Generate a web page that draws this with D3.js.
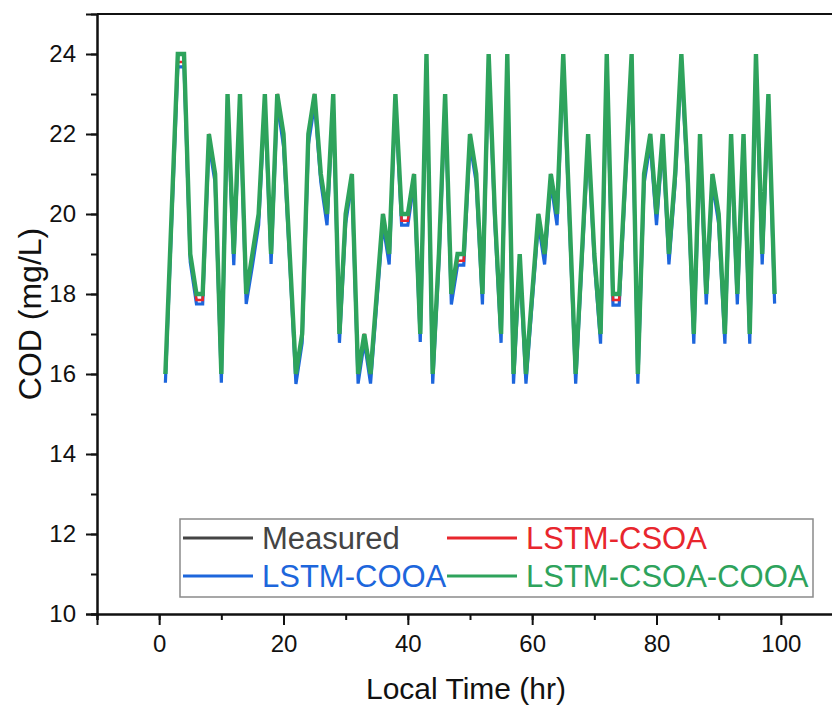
<!DOCTYPE html>
<html>
<head>
<meta charset="utf-8">
<script src="https://cdn.jsdelivr.net/npm/d3@7"></script>
<style>
  html, body { margin: 0; padding: 0; background: #fff; }
  svg { display: block; }
  text { font-family: "Liberation Sans", Arial, Helvetica, sans-serif; }
</style>
</head>
<body>
<svg id="chart" width="832" height="706"></svg>
<script>
// ---- data ----
const hours = d3.range(1, 100); // 1..99
const measured = [
  16, 20, 24, 24, 19, 18, 18, 22, 21, 16,
  23, 19, 23, 18, 19, 20, 23, 19, 23, 22,
  19, 16, 17, 22, 23, 21, 20, 23, 17, 20,
  21, 16, 17, 16, 18, 20, 19, 23, 20, 20,
  21, 17, 24, 16, 19, 23, 18, 19, 19, 22,
  21, 18, 24, 20, 17, 24, 16, 19, 16, 18,
  20, 19, 21, 20, 24, 20, 16, 19, 22, 19,
  17, 24, 18, 18, 21, 24, 16, 21, 22, 20,
  22, 19, 21, 24, 21, 17, 22, 18, 21, 20,
  17, 22, 18, 22, 17, 24, 19, 23, 18
];
const lstmCSOA = [
  16, 20, 23.8, 23.8, 19, 17.85, 17.85, 22, 21, 16,
  23, 19, 23, 18, 19, 20, 23, 19, 23, 22,
  19, 16, 17, 22, 23, 21, 20, 23, 17, 20,
  21, 16, 17, 16, 18, 20, 19, 23, 19.83, 19.83,
  21, 17, 24, 16, 19, 23, 18, 18.83, 18.83, 22,
  21, 18, 24, 20, 17, 24, 16, 19, 16, 18,
  20, 19, 21, 20, 24, 20, 16, 19, 22, 19,
  17, 24, 17.85, 17.85, 21, 24, 16, 21, 22, 20,
  22, 19, 21, 24, 21, 17, 22, 18, 21, 20,
  17, 22, 18, 22, 17, 24, 19, 23, 18
];
const lstmCOOA = [
  15.78, 19.75, 23.68, 23.68, 18.8, 17.75, 17.75, 21.75, 20.78, 15.78,
  22.75, 18.72, 22.76, 17.75, 18.7, 19.72, 22.78, 18.75, 22.76, 21.7,
  18.8, 15.75, 16.78, 21.74, 22.75, 20.8, 19.72, 22.78, 16.78, 19.76,
  20.8, 15.76, 16.8, 15.76, 17.76, 19.74, 18.74, 22.8, 19.72, 19.72,
  20.78, 16.8, 23.76, 15.76, 18.78, 22.76, 17.74, 18.72, 18.72, 21.76,
  20.78, 17.74, 23.74, 19.76, 16.78, 23.76, 15.76, 18.76, 15.76, 17.78,
  19.76, 18.74, 20.78, 19.72, 23.76, 19.76, 15.76, 18.78, 21.76, 18.8,
  16.76, 23.78, 17.72, 17.72, 20.78, 23.76, 15.76, 20.76, 21.76, 19.72,
  21.76, 18.74, 20.78, 23.72, 20.78, 16.76, 21.76, 17.74, 20.76, 19.76,
  16.76, 21.78, 17.74, 21.78, 16.76, 23.76, 18.74, 22.78, 17.76
];
const lstmCSOACOOA = [
  16, 20, 24, 24, 19, 18, 18, 22, 21, 16,
  23, 19, 23, 18, 19, 20, 23, 19, 23, 22,
  19, 16, 17, 22, 23, 21, 20, 23, 17, 20,
  21, 16, 17, 16, 18, 20, 19, 23, 20, 20,
  21, 17, 24, 16, 19, 23, 18, 19, 19, 22,
  21, 18, 24, 20, 17, 24, 16, 19, 16, 18,
  20, 19, 21, 20, 24, 20, 16, 19, 22, 19,
  17, 24, 18, 18, 21, 24, 16, 21, 22, 20,
  22, 19, 21, 24, 21, 17, 22, 18, 21, 20,
  17, 22, 18, 22, 17, 24, 19, 23, 18
];
const seriesNames = ["Measured", "LSTM-CSOA", "LSTM-COOA", "LSTM-CSOA-COOA"];
const seriesColors = ["#444444", "#e8262d", "#1d66dc", "#2ea35c"];
const xTicks = [0, 20, 40, 60, 80, 100];
const yTicks = [10, 12, 14, 16, 18, 20, 22, 24];
const xLabel = "Local Time (hr)";
const yLabel = "COD (mg/L)";

// ---- layout ----
const svg = d3.select("#chart");
const pLeft = 97, pRight = 843, pTop = 14, pBottom = 614;
const x = d3.scaleLinear().domain([-10, 110]).range([pLeft, pRight]);
const y = d3.scaleLinear().domain([10, 25]).range([pBottom, pTop]);

// ---- lines ----
const line = d3.line().x((d, i) => x(hours[i])).y(d => y(d));
const order = [
  { data: measured, color: seriesColors[0], w: 2.5 },
  { data: lstmCOOA, color: seriesColors[2], w: 3.2 },
  { data: lstmCSOA, color: seriesColors[1], w: 2.6 },
  { data: lstmCSOACOOA, color: seriesColors[3], w: 4.4 }
];
const g = svg.append("g");
order.forEach(s => {
  g.append("path")
    .attr("d", line(s.data))
    .attr("fill", "none")
    .attr("stroke", s.color)
    .attr("stroke-width", s.w)
    .attr("stroke-linejoin", "miter")
    .attr("stroke-miterlimit", 4);
});

// ---- axes ----
const axisColor = "#111";
svg.append("line").attr("x1", pLeft).attr("x2", pRight).attr("y1", pTop).attr("y2", pTop)
  .attr("stroke", axisColor).attr("stroke-width", 2);
svg.append("line").attr("x1", pRight).attr("x2", pRight).attr("y1", pTop).attr("y2", pBottom)
  .attr("stroke", axisColor).attr("stroke-width", 2);

const xAxisMinor = d3.axisBottom(x).tickValues(d3.range(-10, 111, 10)).tickSize(6).tickFormat("");
const xAxis = d3.axisBottom(x).tickValues(xTicks).tickSize(11).tickPadding(10);
const yAxisMinor = d3.axisLeft(y).tickValues(d3.range(10, 25, 1)).tickSize(6).tickFormat("");
const yAxis = d3.axisLeft(y).tickValues(yTicks).tickSize(11).tickPadding(10);

function styleAxis(sel) {
  sel.select(".domain").attr("stroke", axisColor).attr("stroke-width", 2);
  sel.selectAll(".tick line").attr("stroke", axisColor).attr("stroke-width", 2);
  sel.selectAll(".tick text").attr("fill", "#111").style("font-size", "24px")
    .style("font-family", "'Liberation Sans', Arial, sans-serif");
}
svg.append("g").attr("transform", `translate(0,${pBottom})`).call(xAxisMinor).call(styleAxis);
svg.append("g").attr("transform", `translate(0,${pBottom})`).call(xAxis).call(styleAxis);
svg.append("g").attr("transform", `translate(${pLeft},0)`).call(yAxisMinor).call(styleAxis);
svg.append("g").attr("transform", `translate(${pLeft},0)`).call(yAxis).call(styleAxis);

// axis titles
svg.append("text").attr("x", 466).attr("y", 699)
  .attr("text-anchor", "middle").style("font-size", "30px").attr("fill", "#111").text(xLabel);
svg.append("text").attr("transform", `translate(41,${(pTop + pBottom) / 2}) rotate(-90)`)
  .attr("text-anchor", "middle").style("font-size", "32px").attr("fill", "#111").text(yLabel);

// ---- legend ----
const lg = svg.append("g");
lg.append("rect").attr("x", 180).attr("y", 519).attr("width", 633).attr("height", 78)
  .attr("fill", "#fff").attr("stroke", "#8a8a8a").attr("stroke-width", 1.5);
const legendPos = [
  { lx: 183, ty: 538 }, { lx: 447, ty: 538 },
  { lx: 183, ty: 576 }, { lx: 447, ty: 576 }
];
seriesNames.forEach((name, i) => {
  const p = legendPos[i];
  lg.append("line").attr("x1", p.lx).attr("x2", p.lx + 70).attr("y1", p.ty).attr("y2", p.ty)
    .attr("stroke", seriesColors[i]).attr("stroke-width", 3);
  lg.append("text").attr("x", p.lx + 79).attr("y", p.ty).attr("dy", "0.36em")
    .style("font-size", "31px").attr("fill", seriesColors[i]).text(name);
});
</script>
</body>
</html>
